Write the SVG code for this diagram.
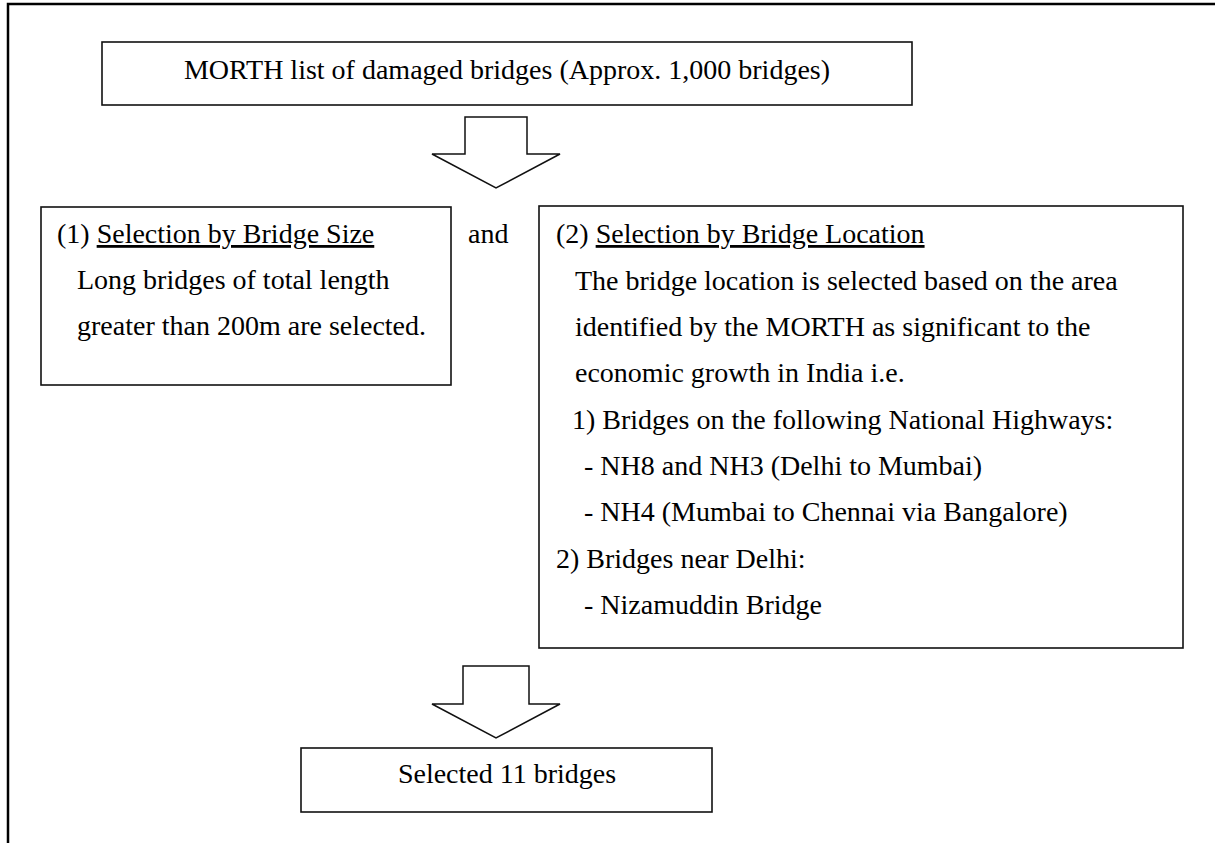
<svg xmlns="http://www.w3.org/2000/svg" width="1215" height="843" viewBox="0 0 1215 843">
<style>
.box{fill:#fff;stroke:#111;stroke-width:1.6}
.arr{fill:#fff;stroke:#111;stroke-width:1.5;stroke-linejoin:miter}
.t{font-family:"Liberation Serif","Times New Roman",serif;font-size:28px;fill:#000}
.c{text-anchor:middle}
.u{text-decoration:underline}
.frame{fill:none;stroke:#000;stroke-width:2.5}
</style>
<rect x="0" y="0" width="1215" height="843" fill="#fff"/>
<path class="frame" d="M8,843 V4 H1215"/>
<g id="node-top">
<rect class="box" x="102" y="42" width="810" height="63"/>
<text class="t c" x="507" y="79">MORTH list of damaged bridges (Approx. 1,000 bridges)</text>
</g>
<g id="connectors">
<polygon class="arr" points="465,117 527,117 527,154 560,154 496,188 432,154 465,154"/>
<polygon class="arr" points="463,666 529,666 529,704 560,704 496,738 432,704 463,704"/>
</g>
<g id="node-size">
<rect class="box" x="41" y="207" width="410" height="178"/>
<text class="t" x="57" y="243">(1) <tspan class="u">Selection by Bridge Size</tspan></text>
<text class="t" x="77" y="289">Long bridges of total length</text>
<text class="t" x="77" y="335">greater than 200m are selected.</text>
</g>
<g id="label-and">
<text class="t" x="468" y="243">and</text>
</g>
<g id="node-location">
<rect class="box" x="539" y="206" width="644" height="442"/>
<text class="t" x="556" y="243">(2) <tspan class="u">Selection by Bridge Location</tspan></text>
<text class="t" x="575" y="289.5">The bridge location is selected based on the area</text>
<text class="t" x="575" y="336">identified by the MORTH as significant to the</text>
<text class="t" x="575" y="382">economic growth in India i.e.</text>
<text class="t" x="572" y="428.5">1) Bridges on the following National Highways:</text>
<text class="t" x="584" y="475">- NH8 and NH3 (Delhi to Mumbai)</text>
<text class="t" x="584" y="521">- NH4 (Mumbai to Chennai via Bangalore)</text>
<text class="t" x="556" y="568">2) Bridges near Delhi:</text>
<text class="t" x="584" y="614">- Nizamuddin Bridge</text>
</g>
<g id="node-result">
<rect class="box" x="301" y="748" width="411" height="64"/>
<text class="t c" x="507" y="783">Selected 11 bridges</text>
</g>
</svg>
